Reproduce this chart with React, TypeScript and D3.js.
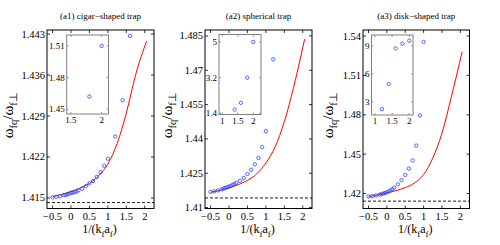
import React from 'react';
import * as d3 from 'd3';

// shared x axis
const xDomain = [-0.65, 2.25];
const xTicks = [-0.5, 0, 0.5, 1, 1.5, 2];

// blue circles (numerics)
const circleX = [-0.5, -0.4, -0.3, -0.2, -0.15, -0.1, -0.05, 0, 0.05, 0.1, 0.15, 0.2, 0.3, 0.4, 0.5, 0.6, 0.7, 0.8, 0.9, 1.0];
const cigarX = [...circleX, 1.2, 1.4, 1.6];
const cigarY = [1.4151, 1.4152, 1.4153, 1.4155, 1.4155, 1.4156, 1.4157, 1.4159, 1.4159, 1.416, 1.4161, 1.4163, 1.4166, 1.417, 1.4175, 1.4179, 1.4186, 1.4194, 1.4205, 1.4217, 1.4255, 1.4317, 1.4427];
const sphereX = [...circleX, 1.2];
const sphereY = [1.4169, 1.4171, 1.4175, 1.418, 1.4183, 1.4186, 1.4189, 1.4192, 1.4195, 1.4199, 1.4203, 1.4208, 1.4217, 1.423, 1.4247, 1.4265, 1.4289, 1.4317, 1.4364, 1.4434, 1.4748];
const diskX = circleX;
const diskY = [1.4178, 1.418, 1.4185, 1.4191, 1.4195, 1.42, 1.4204, 1.421, 1.4216, 1.4224, 1.4233, 1.4245, 1.427, 1.4302, 1.4342, 1.439, 1.4452, 1.4565, 1.4795, 1.5355];

// red curves (analytic)
const curveX = [-0.5, -0.25, 0, 0.25, 0.5, 0.75, 1, 1.25, 1.5, 1.75, 2.05];
const cigarCurve = [1.4152, 1.4156, 1.4161, 1.4167, 1.4175, 1.4188, 1.4208, 1.4243, 1.4295, 1.436, 1.4418];
const sphereCurve = [1.4167, 1.4175, 1.4186, 1.42, 1.4219, 1.4247, 1.4295, 1.4365, 1.4475, 1.4625, 1.4836];
const diskCurve = [1.4175, 1.419, 1.4205, 1.4222, 1.4245, 1.428, 1.4345, 1.447, 1.466, 1.493, 1.528];

// y ticks
const cigarTicks = [1.415, 1.422, 1.429, 1.436, 1.443];
const sphereTicks = [1.41, 1.425, 1.44, 1.455, 1.47, 1.485];
const diskTicks = [1.42, 1.45, 1.48, 1.51, 1.54];

// insets
const cigarInsetX = [1.8, 2.0];
const cigarInsetY = [1.462, 1.51];
const sphereInsetX = [1.4, 1.6, 1.8, 2.0];
const sphereInsetY = [1.59, 1.93, 3.2, 5.0];
const diskInsetX = [1.2, 1.4, 1.6, 1.8, 2.0];
const diskInsetY = [2.2, 4.9, 8.75, 9.26, 9.58];

const titles = ['(a1) cigar\u2212shaped trap', '(a2) spherical trap', '(a3) disk\u2212shaped trap'];
const dashedLevel = Math.SQRT2;

const FONT = '"Liberation Serif", "Times New Roman", serif';
const TOP = 30;
const BOTTOM = 208.5;

const fmt = (v: number) => (v < 0 ? '\u2212' + String(-v) : String(v));
const zip = (xs: number[], ys: number[]) => xs.map((d, i) => [d, ys[i]] as [number, number]);

const panels = [
  {
    id: 'p1', title: titles[0], left: 47, right: 154, ylabX: 12.5,
    yDomain: [1.4132, 1.4437], yTicks: cigarTicks,
    pts: zip(cigarX, cigarY), curve: zip(curveX, cigarCurve),
    inset: { x0: 66.7, x1: 108.5, y0: 35, y1: 114, xDomain: [1.43, 2.112], yDomain: [1.4455, 1.5204], xTicks: [1.5, 2], yTicks: [1.45, 1.48, 1.51], pts: zip(cigarInsetX, cigarInsetY) },
  },
  {
    id: 'p2', title: titles[1], left: 205, right: 312, ylabX: 172.3,
    yDomain: [1.4096, 1.4876], yTicks: sphereTicks,
    pts: zip(sphereX, sphereY), curve: zip(curveX, sphereCurve),
    inset: { x0: 219, x1: 261, y0: 34.5, y1: 114.5, xDomain: [0.894, 2.248], yDomain: [1.34, 5.38], xTicks: [1, 1.5, 2], yTicks: [1.4, 3.2, 5], pts: zip(sphereInsetX, sphereInsetY) },
  },
  {
    id: 'p3', title: titles[2], left: 363, right: 469.5, ylabX: 332.5,
    yDomain: [1.4086, 1.5446], yTicks: diskTicks,
    pts: zip(diskX, diskY), curve: zip(curveX, diskCurve),
    inset: { x0: 371.5, x1: 413, y0: 35, y1: 115, xDomain: [0.898, 2.108], yDomain: [1.57, 10.19], xTicks: [1, 1.5, 2], yTicks: [3, 6, 9], pts: zip(diskInsetX, diskInsetY) },
  },
];

const BLUE = '#2446ff';

function Panel({ p }: { p: any }) {
  const x = d3.scaleLinear().domain(xDomain).range([p.left, p.right]);
  const y = d3.scaleLinear().domain(p.yDomain).range([BOTTOM, TOP]);
  const line = d3.line<[number, number]>().x(d => x(d[0])).y(d => y(d[1])).curve(d3.curveMonotoneX);
  const cx = (p.left + p.right) / 2;

  const ins = p.inset;
  const ix = d3.scaleLinear().domain(ins.xDomain).range([ins.x0, ins.x1]);
  const iy = d3.scaleLinear().domain(ins.yDomain).range([ins.y1, ins.y0]);

  return (
    <g>
      <defs>
        <clipPath id={'clip-' + p.id}>
          <rect x={p.left} y={TOP} width={p.right - p.left} height={BOTTOM - TOP} />
        </clipPath>
      </defs>
      <text x={cx} y={19} textAnchor="middle" fontSize={9} fontFamily={FONT}>{p.title}</text>

      <g clipPath={`url(#clip-${p.id})`}>
        <line x1={p.left} x2={p.right} y1={y(dashedLevel)} y2={y(dashedLevel)} stroke="#000" strokeWidth={0.9} strokeDasharray="3,2" />
        <path d={line(p.curve) || ''} fill="none" stroke="#ff0000" strokeWidth={1} />
        {p.pts.map((d: [number, number], i: number) => (
          <circle key={i} cx={x(d[0])} cy={y(d[1])} r={1.7} fill="none" stroke={BLUE} strokeWidth={0.8} />
        ))}
      </g>

      {/* main ticks, inward on all sides */}
      {xTicks.map(t => (
        <g key={'x' + t}>
          <line x1={x(t)} x2={x(t)} y1={BOTTOM} y2={BOTTOM - 3} stroke="#000" strokeWidth={0.8} />
          <line x1={x(t)} x2={x(t)} y1={TOP} y2={TOP + 3} stroke="#000" strokeWidth={0.8} />
          <text x={x(t)} y={220} textAnchor="middle" fontSize={10.5} fontFamily={FONT}>{fmt(t)}</text>
        </g>
      ))}
      {p.yTicks.map((t: number) => (
        <g key={'y' + t}>
          <line x1={p.left} x2={p.left + 3} y1={y(t)} y2={y(t)} stroke="#000" strokeWidth={0.8} />
          <line x1={p.right} x2={p.right - 3} y1={y(t)} y2={y(t)} stroke="#000" strokeWidth={0.8} />
          <text x={p.left - 2} y={y(t) + 3.5} textAnchor="end" fontSize={10.5} fontFamily={FONT}>{fmt(t)}</text>
        </g>
      ))}
      <rect x={p.left} y={TOP} width={p.right - p.left} height={BOTTOM - TOP} fill="none" stroke="#000" strokeWidth={1} />

      {/* inset */}
      <rect x={ins.x0} y={ins.y0} width={ins.x1 - ins.x0} height={ins.y1 - ins.y0} fill="#fff" stroke="none" />
      {ins.pts.map((d: [number, number], i: number) => (
        <circle key={'i' + i} cx={ix(d[0])} cy={iy(d[1])} r={1.7} fill="none" stroke={BLUE} strokeWidth={0.8} />
      ))}
      {ins.xTicks.map((t: number) => (
        <g key={'ix' + t}>
          <line x1={ix(t)} x2={ix(t)} y1={ins.y1} y2={ins.y1 - 2} stroke="#808080" strokeWidth={0.8} />
          <line x1={ix(t)} x2={ix(t)} y1={ins.y0} y2={ins.y0 + 2} stroke="#808080" strokeWidth={0.8} />
          <text x={ix(t)} y={ins.y1 + 9} textAnchor="middle" fontSize={9} fontFamily={FONT}>{fmt(t)}</text>
        </g>
      ))}
      {ins.yTicks.map((t: number) => (
        <g key={'iy' + t}>
          <line x1={ins.x0} x2={ins.x0 + 2} y1={iy(t)} y2={iy(t)} stroke="#808080" strokeWidth={0.8} />
          <line x1={ins.x1} x2={ins.x1 - 2} y1={iy(t)} y2={iy(t)} stroke="#808080" strokeWidth={0.8} />
          <text x={ins.x0 - 2} y={iy(t) + 3} textAnchor="end" fontSize={9} fontFamily={FONT}>{fmt(t)}</text>
        </g>
      ))}
      <rect x={ins.x0} y={ins.y0} width={ins.x1 - ins.x0} height={ins.y1 - ins.y0} fill="none" stroke="#808080" strokeWidth={1} />

      {/* axis labels */}
      <text transform={`translate(${p.ylabX},${(TOP + BOTTOM) / 2 - 4}) rotate(-90)`} textAnchor="middle" fontSize={15} fontFamily={FONT}>
        ω<tspan fontSize={10.5} dy={4}>fq</tspan><tspan dy={-4}>/ω</tspan><tspan fontSize={10.5} dy={4}>f⊥</tspan>
      </text>
      <text x={cx - 1} y={233} textAnchor="middle" fontSize={12} fontFamily={FONT}>
        1/(k<tspan fontSize={9} dy={4}>f</tspan><tspan dy={-4}>a</tspan><tspan fontSize={9} dy={4}>f</tspan><tspan dy={-4}>)</tspan>
      </text>
    </g>
  );
}

export default function App() {
  return (
    <svg width={500} height={245} style={{ position: 'absolute', left: 0, top: 0, background: '#fff' }}>
      {panels.map(p => <Panel key={p.id} p={p} />)}
    </svg>
  );
}
